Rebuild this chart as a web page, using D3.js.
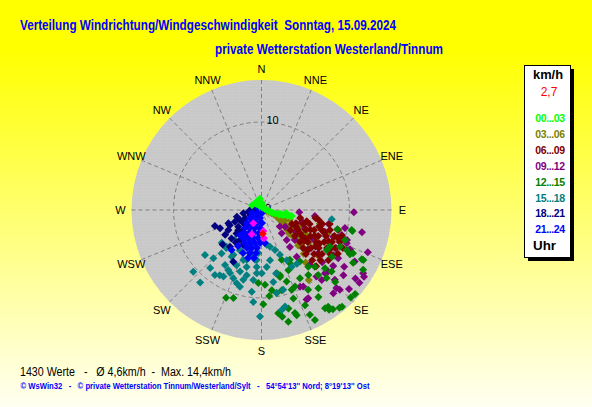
<!DOCTYPE html>
<html><head><meta charset="utf-8">
<script src="https://cdn.jsdelivr.net/npm/d3@7"></script>
<style>body{margin:0;background:#fff}svg{display:block}text{font-family:"Liberation Sans",Arial,sans-serif}</style>
</head><body><svg id="c" width="592" height="407"></svg>
<script>
// ---------- data ----------
const titleText = "Verteilung Windrichtung/Windgeschwindigkeit  Sonntag, 15.09.2024";
const subtitleText = "private Wetterstation Westerland/Tinnum";
const statsText = "1430 Werte   -   Ø 4,6km/h  -  Max. 14,4km/h";
const footerText = "© WsWin32   -   © private Wetterstation Tinnum/Westerland/Sylt   -   54°54'13'' Nord; 8°19'13'' Ost";
const directions = ["N","NNE","NE","ENE","E","ESE","SE","SSE","S","SSW","SW","WSW","W","WNW","NW","NNW"];
const ringTicks = [0, 10];
const unitLabel = "km/h";
const currentSpeed = "2,7";
const hourLabels = ["00...03","03...06","06...09","09...12","12...15","15...18","18...21","21...24"];
const hourColors = ["#00FF00","#808000","#800000","#800080","#008000","#008080","#000080","#0000FF"];
const hourUnit = "Uhr";

// [direction deg, speed km/h]
const h00_03 = [[352,1.3],[2,0.8],[320,0.9],[336,0.5],[297,1.2],[330,1.1],[340,0.6],[10,0.5],[45,0.4],[74,0.4],[95,0.7],[101,1.0],[104,1.3],[104,1.6],[103,1.9],[102,2.2],[103,2.5],[100,2.7],[102,3.0],[102,3.3],[101,3.5],[98,2.9],[105,2.1],[20,0.3]];
const h03_06 = [[100,0.6],[104,0.9],[108,1.2],[110,1.5],[114,1.9],[112,2.1],[118,2.3],[120,2.65],[116,2.8],[124,3.0],[122,3.3],[109,3.4],[126,3.4],[128,3.7],[124,3.9],[130,4.1],[126,4.3],[130,4.6],[114,4.6],[127,4.9],[131,5.1],[128,5.55],[118,5.6],[120,6.1],[103,6.8],[109,8.0],[134,5.8],[125,6.5],[113,5.2],[136,6.9],[122,7.3],[140,7.8],[146,9.6],[117,7.0],[129,8.3],[132,6.2],[111,3.0],[119,4.2]];
const h06_09 = [[101.7,4.5],[98.5,6.2],[114.7,3.8],[108.6,5.0],[106.1,5.7],[103.0,7.1],[101.6,7.9],[125.1,4.0],[118.7,4.7],[114.2,5.5],[110.9,6.4],[108.3,7.2],[106.3,8.1],[104.7,9.0],[127.8,4.8],[122.7,5.5],[118.2,6.3],[114.7,7.1],[112.0,7.9],[109.7,8.8],[107.9,9.6],[129.7,5.7],[124.5,6.4],[120.4,7.2],[117.1,8.0],[114.4,8.8],[112.2,9.6],[132.5,6.4],[127.5,7.1],[123.5,7.8],[120.1,8.6],[117.3,9.4],[115.0,10.2],[134.7,7.1],[130.0,7.8],[126.0,8.5],[122.7,9.3],[119.9,10.0],[134.7,8.1],[130.5,8.8],[126.9,9.5],[135.8,8.9],[111,4.2],[116,4.4],[121,5.1],[112,6.0],[116,6.7],[120,7.6],[124,7.4],[128,8.2],[110,7.6],[106,6.8],[104,5.3],[119,9.0],[126,6.0],[131,6.9],[115,8.4],[100,6.6],[110,9.2],[123,5.9]];
const h09_12 = [[93.5,4.3],[91.4,10.5],[102.5,11.7],[101.8,7.8],[110.4,8.7],[107.3,9.55],[111.3,10.4],[118.9,12.1],[113.9,11.0],[125.4,3.3],[139.1,3.5],[131.8,5.1],[130.5,7.0],[127.3,8.1],[122.1,9.6],[122.2,10.3],[106.2,4.8],[108.9,7.6],[96.4,6.1],[111.7,13.0],[123.1,13.9],[126.6,13.85],[132.1,13.4],[135.5,12.7],[128.0,10.35],[124.5,11.4],[109.4,10.3],[116.1,11.2],[110.9,9.55],[151.4,9.9],[153.3,11.4],[140.4,9.8],[134.9,10.2],[133.6,11.5],[132.1,2.8],[140,4.45],[143,6.65],[121.9,13.6],[126.1,13.2],[136.2,12.3],[139.2,12.5],[139.3,10.5],[152.1,11.35],[153.3,9.75],[132.7,10.3],[128.5,11.9],[112.5,5.35],[121.8,7.55],[121,8.8],[122.5,4.65],[119,6.6],[130.7,9.1],[102.2,9.7],[117,9.5],[138.6,8.3],[142.4,5.3]];
const h12_15 = [[164.1,7.7],[155.9,7.5],[160.6,8.6],[165.8,9.4],[156.4,9.5],[160.2,10.7],[164.7,11.6],[161.5,12.6],[155.4,11.9],[146.8,11.8],[145.4,13.35],[144.3,13.9],[140.2,14.3],[131.9,14.3],[134.4,14.2],[149.7,10.5],[144,11.0],[136.3,10.7],[134.3,11.7],[131.3,10.6],[138.9,9.8],[132.6,9.8],[144.2,9.1],[150.6,8.9],[170.8,11.9],[154.1,13.9],[147.1,13.3],[166.5,13.05],[202,10.75],[197.7,10.5],[178.9,10.7],[169,12.35],[162,12.3],[155.2,13.1],[145.9,13.7],[141.4,14.2],[120.5,13.4],[116.2,12.7],[119.9,12.0],[102.5,10.5],[104.3,8.9],[115.2,10.7],[118.2,8.8],[166.5,7.4],[150.3,6.5],[159.3,9.7],[164.5,7.9],[182.5,8.3],[177.3,8.5],[172.7,9.2],[174.8,9.8],[169.7,9.6],[165.5,7.6],[103,10.6],[115.3,11.5],[116.2,12.9],[109.8,10.1],[115.1,9.85],[116.6,11.25],[121.5,8.7],[158,6.1],[151.9,6.9],[143.3,7.3],[140.5,8.35],[136.8,8.85],[123.6,9.6]];
const h15_18 = [[227.9,10.45],[221.5,8.8],[215.6,9.1],[220.2,10.8],[209.8,8.7],[202.4,8.4],[198.7,8.8],[195.7,9.05],[194.6,8.2],[192.8,7.6],[186.7,8.0],[186.8,9.35],[185.1,10.5],[180.8,12.1],[179.8,7.2],[174.8,6.5],[184.8,6.5],[194.6,6.7],[204.3,6.9],[213.6,7.5],[212.6,8.8],[199.2,7.4],[206.5,8.0],[184.3,7.2],[230.6,5.85],[222.8,5.9],[212.5,6.3],[208.3,5.2],[202,4.5],[194.9,5.1],[187.4,5.7],[167,4.3],[161.4,4.8],[157.7,5.5],[153.3,6.4],[151.9,7.3],[167.1,7.4],[170.7,8.3],[169.7,9.6],[164.8,9.4],[166.3,11.3],[168.6,11.6],[97.5,8.05],[146.6,7.3],[209,7.8],[200,6.05],[231.5,8.2],[224.9,7.75],[222.6,6.7],[223.5,5.75],[212.1,6.0],[196.5,5.9],[190.3,5.2],[185.5,5.7],[221.5,4.55],[210.2,3.7],[235.6,1.35],[197.2,3.8],[184.2,4.9],[170.4,5.8],[171.5,4.0]];
const h18_21 = [[246.2,5.15],[228.5,5.9],[244.5,4.0],[254.9,2.9],[259.7,2.1],[262.7,1.5],[208.6,6.7],[226.5,4.7],[238.9,4.4],[246.2,3.3],[245.1,2.7],[234.3,3.25],[243.3,2.1],[233.8,2.55],[246.5,1.4],[270,0.75],[218.3,2.4],[222.4,3.3],[226.8,3.9],[210.6,3.3],[215.6,4.2],[220.6,5.5],[215.6,0.95],[279.8,1.1],[248.2,4.05],[218.3,4.7],[229.2,3.5],[235.6,5.0],[251,5.6],[207.9,4.5]];
const h21_24 = [[300.3,0.46],[14,0.23],[252.5,1.13],[236.3,0.61],[170.5,0.35],[235.2,1.59],[219.1,1.17],[190.6,0.92],[228.1,2.21],[216.2,1.83],[199.1,1.56],[177.8,1.48],[222.5,2.78],[212.6,2.43],[199.9,2.17],[184.8,2.05],[217.3,3.28],[208.5,2.97],[198.1,2.75],[186.2,2.63],[213.5,3.81],[205.7,3.53],[196.9,3.33],[187.1,3.21],[206.6,4.19],[199.2,3.97],[191.1,3.82],[182.6,3.75],[174,3.77],[200.9,4.62],[194,4.45],[186.8,4.35],[203.3,5.32],[195,5.06],[187.3,4.93],[195.7,5.67],[188.9,5.52],[216.9,5.68],[213.1,4.89],[220.7,3.75]];
const lastValues = [[211.7,1.77],[175.1,2.4],[175,3.23],[202,2.98]];
const currentValue = [[177,2.7]];

// ---------- layout ----------
const W = 592, H = 407;
const cx = 261.5, cy = 210, R = 130, labelR = 141;
const rScale = d3.scaleLinear().domain([0, 10]).range([0, 88]);
const aScale = d3.scaleLinear().domain([0, 360]).range([0, 2 * Math.PI]);
const svg = d3.select("#c");
const defs = svg.append("defs");

const bg = defs.append("linearGradient").attr("id", "bg").attr("x1", 0).attr("y1", 0).attr("x2", 0).attr("y2", 1);
bg.append("stop").attr("offset", "0%").attr("stop-color", "#FFFF00");
bg.append("stop").attr("offset", "12%").attr("stop-color", "#FFFF00");
bg.append("stop").attr("offset", "100%").attr("stop-color", "#FFFFF2");
svg.append("rect").attr("width", W).attr("height", H).attr("fill", "url(#bg)");

const pat = defs.append("pattern").attr("id", "dots").attr("width", 3).attr("height", 3).attr("patternUnits", "userSpaceOnUse");
pat.append("rect").attr("width", 3).attr("height", 3).attr("fill", "#C8C8C8");
pat.append("rect").attr("x", 1).attr("y", 1).attr("width", 1).attr("height", 1).attr("fill", "#D2D2D2");

// titles
svg.append("text").attr("x", 20).attr("y", 30).attr("textLength", 376).attr("lengthAdjust", "spacingAndGlyphs")
  .style("white-space", "pre").attr("font-size", 14).attr("font-weight", "bold").attr("fill", "#0000FF").text(titleText);
svg.append("text").attr("x", 215).attr("y", 54).attr("textLength", 228).attr("lengthAdjust", "spacingAndGlyphs")
  .attr("font-size", 14).attr("font-weight", "bold").attr("fill", "#0000FF").text(subtitleText);

// polar area
const g = svg.append("g").attr("transform", `translate(${cx},${cy})`);
g.append("circle").attr("r", R).attr("fill", "url(#dots)");

const grid = g.append("g").attr("stroke", "#808080").attr("stroke-dasharray", "4,3").attr("fill", "none");
grid.selectAll("line").data(directions).join("line")
  .attr("x1", 0).attr("y1", 0)
  .attr("x2", (d, i) => d3.pointRadial(aScale(i * 22.5), R)[0])
  .attr("y2", (d, i) => d3.pointRadial(aScale(i * 22.5), R)[1]);
grid.selectAll("circle").data(ringTicks.filter(t => t > 0)).join("circle").attr("r", d => rScale(d));

g.selectAll("text.dir").data(directions).join("text").attr("class", "dir")
  .attr("x", (d, i) => d3.pointRadial(aScale(i * 22.5), labelR)[0])
  .attr("y", (d, i) => d3.pointRadial(aScale(i * 22.5), labelR)[1])
  .attr("text-anchor", "middle").attr("dominant-baseline", "central")
  .attr("font-size", 11).attr("fill", "#000").text(d => d);

g.selectAll("text.tick").data(ringTicks).join("text").attr("class", "tick")
  .attr("x", d => d === 0 ? 3.5 : 5).attr("y", d => -rScale(d) - 2)
  .attr("dominant-baseline", "central").attr("font-size", 11).attr("fill", "#000").text(d => d);

// points
const diamond = "M0,-4L4,0L0,4L-4,0Z";
function drawPts(data, color) {
  g.append("g").selectAll("path").data(data).join("path")
    .attr("d", diamond).attr("fill", color)
    .attr("transform", d => { const p = d3.pointRadial(aScale(d[0]), rScale(d[1])); return `translate(${p[0]},${p[1]})`; });
}
const groups = [h00_03, h03_06, h06_09, h09_12, h12_15, h15_18, h18_21, h21_24];
[1, 3, 2, 4, 5, 6, 7, 0].forEach(i => drawPts(groups[i], hourColors[i]));
drawPts(lastValues, "#FF00FF");
drawPts(currentValue, "#FF0000");

// legend
const lg = svg.append("g");
lg.append("rect").attr("x", 528).attr("y", 69).attr("width", 46).attr("height", 192).attr("fill", "#000");
lg.append("rect").attr("x", 524.5).attr("y", 65.5).attr("width", 46).attr("height", 192).attr("fill", "#fff").attr("stroke", "#000");
lg.append("text").attr("x", 548).attr("y", 75).attr("text-anchor", "middle").attr("dominant-baseline", "central")
  .attr("font-size", 12).attr("font-weight", "bold").attr("textLength", 30).attr("lengthAdjust", "spacingAndGlyphs").text(unitLabel);
lg.append("text").attr("x", 549).attr("y", 92).attr("text-anchor", "middle").attr("dominant-baseline", "central")
  .attr("font-size", 12).attr("fill", "#FF0000").text(currentSpeed);
lg.selectAll("text.h").data(hourLabels).join("text").attr("class", "h")
  .attr("x", 550).attr("y", (d, i) => 118.3 + i * 15.85).attr("text-anchor", "middle").attr("dominant-baseline", "central")
  .attr("font-size", 10.5).attr("font-weight", "bold").attr("letter-spacing", -0.4)
  .attr("fill", (d, i) => hourColors[i]).text(d => d);
lg.append("text").attr("x", 544.5).attr("y", 245.5).attr("text-anchor", "middle").attr("dominant-baseline", "central")
  .attr("font-size", 12).attr("font-weight", "bold").attr("textLength", 23).attr("lengthAdjust", "spacingAndGlyphs").text(hourUnit);

// bottom texts
svg.append("text").attr("x", 20).attr("y", 376).attr("textLength", 211).attr("lengthAdjust", "spacingAndGlyphs")
  .style("white-space", "pre").attr("font-size", 12).attr("fill", "#000").text(statsText);
svg.append("text").attr("x", 20.5).attr("y", 389).attr("textLength", 349).attr("lengthAdjust", "spacingAndGlyphs")
  .style("white-space", "pre").attr("font-size", 8.5).attr("font-weight", "bold").attr("fill", "#0000FF").text(footerText);
</script></body></html>
